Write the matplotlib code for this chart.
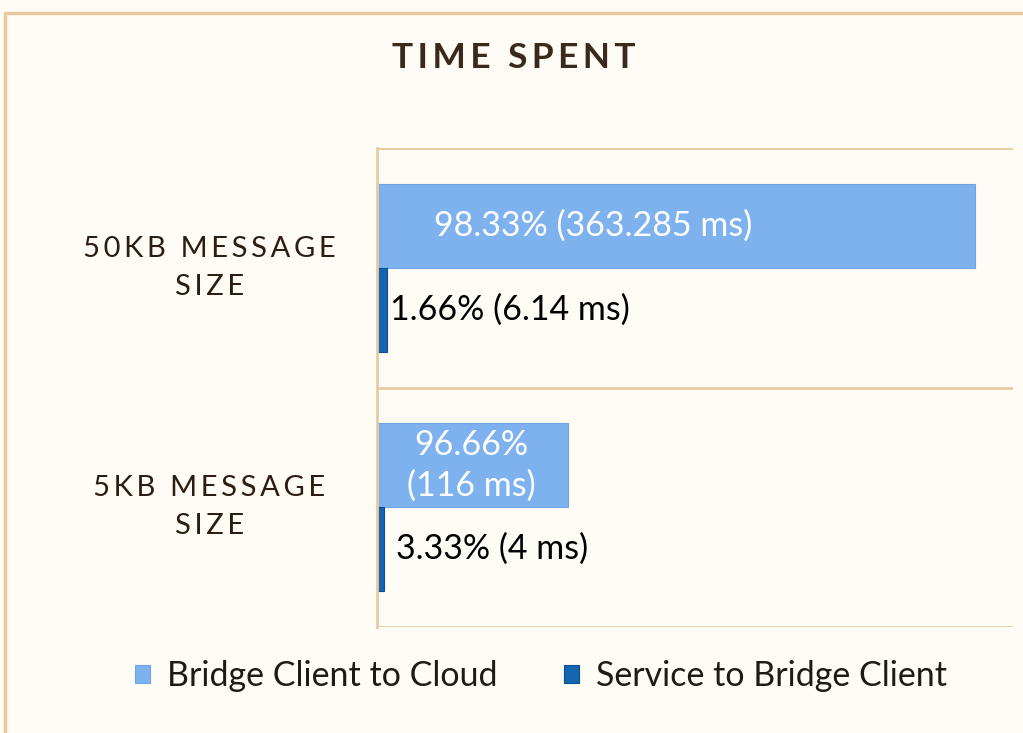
import matplotlib
matplotlib.use("Agg")
import matplotlib.pyplot as plt
from matplotlib.patches import Rectangle

categories = ["5KB MESSAGE\nSIZE", "50KB MESSAGE\nSIZE"]
cloud_ms = [116, 363.285]
service_ms = [4, 6.14]
cloud_labels = ["96.66%\n(116 ms)", "98.33% (363.285 ms)"]
service_labels = ["3.33% (4 ms)", "1.66% (6.14 ms)"]
series_names = ["Bridge Client to Cloud", "Service to Bridge Client"]
title = "TIME SPENT"

BG = "#FEFCF5"
TAN = "#E9CBA2"
LIGHT = "#7EB2EE"
DARK = "#1565B0"
FONT = ["Lato", "DejaVu Sans"]


def spaced(s, sep="\u2009"):
    return "\n".join(sep.join(line) for line in s.split("\n"))


fig = plt.figure(figsize=(10.23, 7.33), dpi=100, facecolor=BG)
fig.patches.append(Rectangle((5/1023, -0.1), 1.2, (733-13)/733 + 0.1, transform=fig.transFigure,
                             fill=False, edgecolor=TAN, linewidth=2.5))

ax = fig.add_axes([377/1023, 1-627/733, (1013-377)/1023, (627-148)/733])
ax.set_facecolor(BG)
ypos = list(range(len(categories)))
h = 0.35
ax.barh([y + h/2 for y in ypos], cloud_ms, height=h, color=LIGHT, edgecolor="#6FA5E6", linewidth=0.8,
        label=series_names[0])
ax.barh([y - h/2 for y in ypos], service_ms, height=h, color=DARK, edgecolor="#0D4F8F", linewidth=0.8,
        label=series_names[1])

ax.set_xlim(0, 386.5)
ax.set_ylim(-0.5, len(categories) - 0.5)
for s in ["top", "right", "bottom"]:
    ax.spines[s].set_visible(False)
ax.spines["left"].set_color(TAN)
ax.spines["left"].set_linewidth(2)
for yl in [-0.5, 0.5, 1.5]:
    ax.axhline(yl, color=TAN, linewidth=2, zorder=0.5)
ax.set_xticks([])
ax.set_yticks(ypos)
ax.set_yticklabels([])
ax.tick_params(axis="y", length=0)

ytr = ax.get_yaxis_transform()
for y, c in zip(ypos, categories):
    ax.text(-0.264, y, spaced(c), transform=ytr, ha="center", va="center", fontsize=21,
            family=FONT, color="#2B1D12", linespacing=1.55)

ax.text(0.34, 1 + h/2, cloud_labels[1], ha="center", va="center", color="white",
        fontsize=24.5, family=FONT, transform=ytr)
ax.text(0.149, 0 + h/2, cloud_labels[0], ha="center", va="center", color="white",
        fontsize=24.5, family=FONT, transform=ytr, linespacing=1.35)
ax.text(0.02, 1 - h/2, service_labels[1], ha="left", va="center", color="black",
        fontsize=24.5, family=FONT, transform=ytr)
ax.text(0.03, 0 - h/2, service_labels[0], ha="left", va="center", color="black",
        fontsize=24.5, family=FONT, transform=ytr)

fig.text(514/1023, 1-58/733, spaced(title), ha="center", va="center", fontsize=25.5,
         fontweight="bold", family=FONT, color="#3A2A1E")

handles, labels = ax.get_legend_handles_labels()
leg = fig.legend(handles, labels, loc="center", bbox_to_anchor=(541/1023, 1-676/733), ncol=2,
                 frameon=False, prop={"family": FONT, "size": 24.5}, handlelength=0.45, handleheight=0.45,
                 columnspacing=1.95, handletextpad=0.5)
for t in leg.get_texts():
    t.set_color("#1F1A16")

fig.savefig("out.png", dpi=100, facecolor=BG)
